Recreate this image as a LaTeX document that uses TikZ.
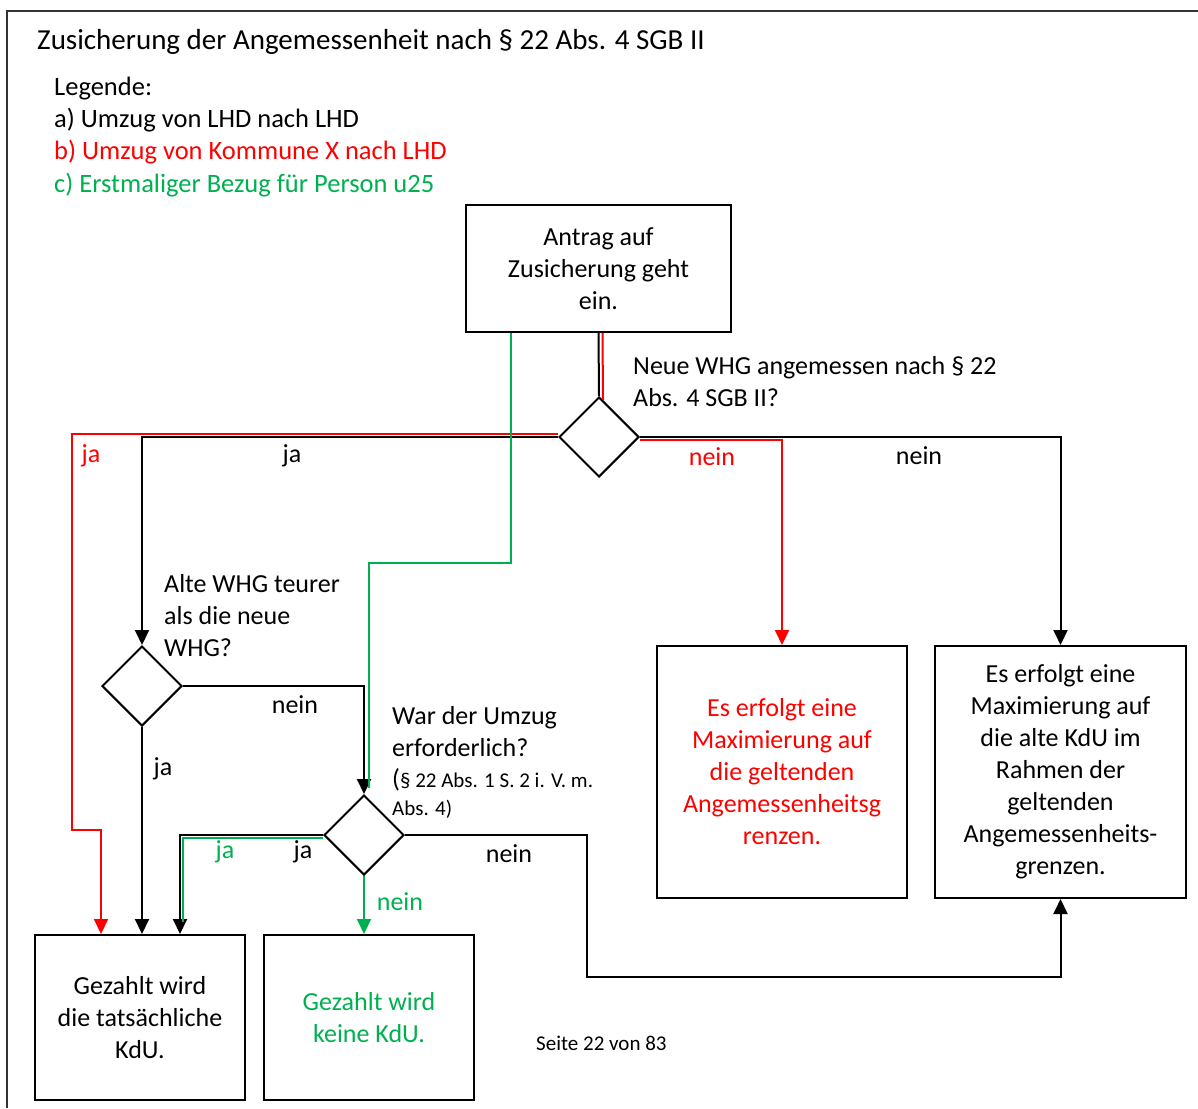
\documentclass[tikz,border=0pt]{standalone}
\usepackage{fontspec}
\setmainfont{Carlito}
\usetikzlibrary{shapes.geometric,arrows.meta,positioning,calc}
\definecolor{kdured}{HTML}{FF0000}
\definecolor{kdugreen}{HTML}{00B050}

\begin{document}
\begin{tikzpicture}[
    x=1pt, y=-1pt,
    font=\fontsize{26}{32}\selectfont,
    >={Triangle[length=15pt,width=14pt]},
    box/.style   ={rectangle, draw=black, line width=2pt,
                   align=center, inner sep=0pt},
    bigbox/.style={box, minimum width=250pt, minimum height=252pt},
    endbox/.style={box, minimum width=210pt, minimum height=165pt},
    decide/.style={diamond, draw=black, line width=2pt,
                   minimum width=80pt, minimum height=80pt, inner sep=0pt},
    conn/.style  ={line width=2pt},
    arrow/.style ={conn, ->},
    lbl/.style   ={inner sep=0pt},
    qtext/.style ={align=left, anchor=base west, inner sep=0pt},
    smalltext/.style={font=\fontsize{21}{28}\selectfont}
]
\useasboundingbox (0,0) rectangle (1198,1108);

%–––– FRAME + HEADER ––––––––––––––––––––––––––––––––
% base west of a multi-line node = baseline of its last line
\draw[line width=2pt, black!80] (7,1108) -- (7,11) -- (1198,11);
\node (title) [qtext, font=\fontsize{29}{34}\selectfont] at (37,49)
  {Zusicherung der Angemessenheit nach § 22 Abs. 4 SGB II};
\node (legend) [qtext, font=\fontsize{26.5}{32.3}\selectfont] at (54,192)
  {Legende:\\a) Umzug von LHD nach LHD\\
   \textcolor{kdured}{b) Umzug von Kommune X nach LHD}\\
   \textcolor{kdugreen}{c) Erstmaliger Bezug für Person u25}};

%–––– START + DECISIONS –––––––––––––––––––––––––––––
\node (start) [box, minimum width=265pt, minimum height=127pt] at (598.5,268.5)
  {Antrag auf\\Zusicherung geht\\ein.};
\node (q1) [decide] at (599,437) {};
\node (q2) [decide] at (142,686) {};
\node (q3) [decide] at (364,835) {};

\node (q1text) [qtext] at (633,406) {Neue WHG angemessen nach § 22\\Abs. 4 SGB II?};
\node (q2text) [qtext] at (164,656) {Alte WHG teurer\\als die neue\\WHG?};
\node (q3text) [qtext] at (392,756) {War der Umzug\\erforderlich?};
\node (q3law)  [qtext, smalltext] at (392,815)
  {{\fontsize{26}{28}\selectfont(}§ 22 Abs. 1 S. 2 i. V. m.\\Abs. 4)};

%–––– RESULTS –––––––––––––––––––––––––––––––––––––––
\node (maxneu) [bigbox, text=kdured] at (782,772)
  {Es erfolgt eine\\Maximierung auf\\die geltenden\\Angemessenheitsg\\renzen.};
\node (maxalt) [bigbox, minimum width=251pt, right=26pt of maxneu]
  {Es erfolgt eine\\Maximierung auf\\die alte KdU im\\Rahmen der\\geltenden\\Angemessenheits-\\grenzen.};
\node (tats)  [endbox] at (140,1017.5) {Gezahlt wird\\die tatsächliche\\KdU.};
\node (keine) [endbox, text=kdugreen, right=17pt of tats] {Gezahlt wird\\keine KdU.};

\node (seite) [qtext, font=\fontsize{21}{25}\selectfont] at (536,1050) {Seite 22 von 83};

%–––– BLACK PATH (a) ––––––––––––––––––––––––––––––––
\draw[conn]  (start.south) -- (q1.north);
\draw[arrow] (q1.west) -| (q2.north);
\draw[arrow] (q1.east) -| (maxalt.north);
\draw[arrow] (q2.east) -| (q3.north);
\draw[arrow] (q2.south) -- (q2.south |- tats.north);
\draw[arrow] (q3.west) -| ($(tats.north)+(40,0)$);
\draw[arrow] (q3.east) -| ++(182,142) -| (maxalt.south);

%–––– RED PATH (b) ––––––––––––––––––––––––––––––––––
\begin{scope}[draw=kdured, color=kdured]
  \draw[conn]  ($(start.south)+(4,0)$) -- ($(q1.north)+(4,4)$);
  \draw[arrow] ($(q1.west)+(0,-3)$) -| (72,830) -| ($(tats.north)+(-39,0)$);
  \draw[arrow] ($(q1.east)+(0,3)$) -| (maxneu.north);
\end{scope}

%–––– GREEN PATH (c) ––––––––––––––––––––––––––––––––
\begin{scope}[draw=kdugreen, color=kdugreen]
  \draw[conn]  ($(start.south west)+(46,0)$) -- ++(0,230) -| ($(q3.north)+(5,-6)$);
  \draw[conn]  ($(q3.west)+(0,3)$) -| ($(tats.north)+(43,-12)$);
  \draw[arrow] (q3.south) -- (q3.south |- keine.north);
\end{scope}

%–––– EDGE LABELS –––––––––––––––––––––––––––––––––––
\node (ja1r)   [lbl, text=kdured]   at (91,456)  {ja};
\node (ja1)    [lbl]                at (292,456) {ja};
\node (nein1r) [lbl, text=kdured]   at (712,457) {nein};
\node (nein1)  [lbl]                at (919,456) {nein};
\node (nein2)  [lbl]                at (295,705) {nein};
\node (ja2)    [lbl]                at (163,769) {ja};
\node (ja3g)   [lbl, text=kdugreen] at (225,852) {ja};
\node (ja3)    [lbl]                at (303,852) {ja};
\node (nein3g) [lbl, text=kdugreen] at (400,902) {nein};
\node (nein3)  [lbl]                at (509,854) {nein};
\end{tikzpicture}
\end{document}
